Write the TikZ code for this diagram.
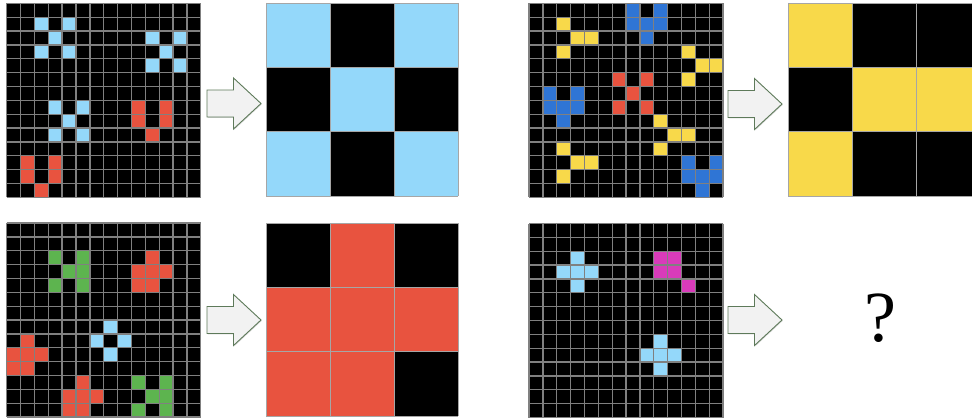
\documentclass[tikz,border=0pt]{standalone}
\usepackage{fontspec}
\usetikzlibrary{shadows}
\newfontfamily\qfont{Liberation Serif}

\definecolor{arcsky}{HTML}{94D8FA}
\definecolor{arcred}{HTML}{E8533F}
\definecolor{arcyellow}{HTML}{F8D94A}
\definecolor{arcblue}{HTML}{2F75D5}
\definecolor{arcgreen}{HTML}{5DB44F}
\definecolor{arcpink}{HTML}{D93BBA}
\definecolor{arrowedge}{HTML}{5E7A5A}

\begin{document}
\begin{tikzpicture}[
  x=1pt, y=-1pt,
  ingrid/.style={x=13.86pt, y=-13.86pt},
  outgrid/.style={x=64pt, y=-64.3pt},
  inline/.style={draw=black!50, line width=1.3pt},
  outline/.style={draw=gray!70, line width=0.8pt},
  blockarrow/.style={draw=arrowedge, fill=gray!10, line width=0.9pt, line join=miter,
    drop shadow={shadow xshift=0.8pt, shadow yshift=-0.8pt, opacity=0.3}}
]
\clip (0,0) rectangle (972,420);
\fill[white] (0,0) rectangle (972,420);

% example 1
\begin{scope}[shift={(6.7,3.3)}, ingrid]
  \fill[black] (0,0) rectangle (14,14);
  \foreach \rr/\cc in {1/2,1/4,2/3,3/2,3/4, 2/10,2/12,3/11,4/10,4/12, 7/3,7/5,8/4,9/3,9/5}
    \fill[arcsky] (\cc,\rr) rectangle ++(1,1);
  \foreach \rr/\cc in {7/9,7/11,8/9,8/11,9/10, 11/1,11/3,12/1,12/3,13/2}
    \fill[arcred] (\cc,\rr) rectangle ++(1,1);
  \foreach \k in {0,...,14} {
    \draw[inline] (\k,0) -- (\k,14);
    \draw[inline] (0,\k) -- (14,\k);
  }
\end{scope}
\begin{scope}[shift={(266,3)}, outgrid]
  \fill[black] (0,0) rectangle (3,3);
  \foreach \rr/\cc in {0/0,0/2,1/1,2/0,2/2}
    \fill[arcsky] (\cc,\rr) rectangle ++(1,1);
  \foreach \k in {0,...,3} {
    \draw[outline] (\k,0) -- (\k,3);
    \draw[outline] (0,\k) -- (3,\k);
  }
\end{scope}

% example 2
\begin{scope}[shift={(529,3.3)}, ingrid]
  \fill[black] (0,0) rectangle (14,14);
  \foreach \rr/\cc in {0/7,0/9,1/7,1/8,1/9,2/8, 6/1,6/3,7/1,7/2,7/3,8/2, 11/11,11/13,12/11,12/12,12/13,13/12}
    \fill[arcblue] (\cc,\rr) rectangle ++(1,1);
  \foreach \rr/\cc in {1/2,2/3,2/4,3/2, 3/11,4/12,4/13,5/11, 8/9,9/10,9/11,10/9, 10/2,11/3,11/4,12/2}
    \fill[arcyellow] (\cc,\rr) rectangle ++(1,1);
  \foreach \rr/\cc in {5/6,5/8,6/7,7/6,7/8}
    \fill[arcred] (\cc,\rr) rectangle ++(1,1);
  \foreach \k in {0,...,14} {
    \draw[inline] (\k,0) -- (\k,14);
    \draw[inline] (0,\k) -- (14,\k);
  }
\end{scope}
\begin{scope}[shift={(788,3)}, outgrid]
  \fill[black] (0,0) rectangle (3,3);
  \foreach \rr/\cc in {0/0,1/1,1/2,2/0}
    \fill[arcyellow] (\cc,\rr) rectangle ++(1,1);
  \foreach \k in {0,...,3} {
    \draw[outline] (\k,0) -- (\k,3);
    \draw[outline] (0,\k) -- (3,\k);
  }
\end{scope}

% example 3
\begin{scope}[shift={(6.7,223)}, ingrid]
  \fill[black] (0,0) rectangle (14,14);
  \foreach \rr/\cc in {2/3,2/5,3/4,3/5,4/3,4/5, 11/9,11/11,12/10,12/11,13/9,13/11}
    \fill[arcgreen] (\cc,\rr) rectangle ++(1,1);
  \foreach \rr/\cc in {2/10,3/9,3/10,3/11,4/9,4/10, 8/1,9/0,9/1,9/2,10/0,10/1, 11/5,12/4,12/5,12/6,13/4,13/5}
    \fill[arcred] (\cc,\rr) rectangle ++(1,1);
  \foreach \rr/\cc in {7/7,8/6,8/8,9/7}
    \fill[arcsky] (\cc,\rr) rectangle ++(1,1);
  \foreach \k in {0,...,14} {
    \draw[inline] (\k,0) -- (\k,14);
    \draw[inline] (0,\k) -- (14,\k);
  }
\end{scope}
\begin{scope}[shift={(266,223)}, outgrid]
  \fill[black] (0,0) rectangle (3,3);
  \foreach \rr/\cc in {0/1,1/0,1/1,1/2,2/0,2/1}
    \fill[arcred] (\cc,\rr) rectangle ++(1,1);
  \foreach \k in {0,...,3} {
    \draw[outline] (\k,0) -- (\k,3);
    \draw[outline] (0,\k) -- (3,\k);
  }
\end{scope}

% test input
\begin{scope}[shift={(529,223.5)}, ingrid]
  \fill[black] (0,0) rectangle (14,14);
  \foreach \rr/\cc in {2/3,3/2,3/3,3/4,4/3, 8/9,9/8,9/9,9/10,10/9}
    \fill[arcsky] (\cc,\rr) rectangle ++(1,1);
  \foreach \rr/\cc in {2/9,2/10,3/9,3/10,4/11}
    \fill[arcpink] (\cc,\rr) rectangle ++(1,1);
  \foreach \k in {0,...,14} {
    \draw[inline] (\k,0) -- (\k,14);
    \draw[inline] (0,\k) -- (14,\k);
  }
\end{scope}

% arrows
\foreach \ax/\ay in {207/103.5, 728/104, 207/320, 728/320}
  \draw[blockarrow] (\ax,\ay) ++(0,-13.5) -- ++(26.5,0) -- ++(0,-12) -- ++(27.5,25.5)
    -- ++(-27.5,25.5) -- ++(0,-12) -- ++(-26.5,0) -- cycle;

\node[font=\qfont\fontsize{72}{72}\selectfont, inner sep=0pt] (query) at (880,318) {?};
\end{tikzpicture}
\end{document}
